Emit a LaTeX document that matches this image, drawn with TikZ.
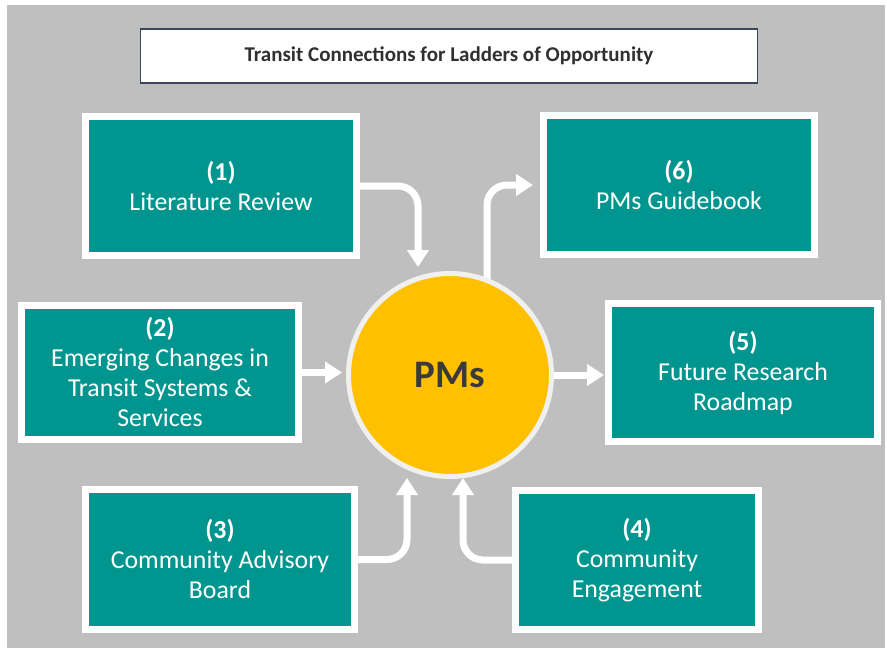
\documentclass[tikz,border=0pt]{standalone}
\usepackage{fontspec}
\setmainfont{Carlito}
\usetikzlibrary{arrows.meta}

\definecolor{panelgray}{RGB}{191,191,191}
\definecolor{tealbox}{RGB}{0,150,143}
\definecolor{hubyellow}{RGB}{255,192,0}
\definecolor{hubtext}{RGB}{58,58,58}
\definecolor{titleframe}{RGB}{59,70,86}
\definecolor{titletext}{RGB}{48,48,48}

\tikzset{
  taskbox/.style={rectangle, fill=tealbox, draw=white, line width=7pt,
    text=white, align=center, inner sep=0pt,
    font=\fontsize{25.8}{30}\selectfont},
  hub/.style={circle, fill=hubyellow, draw=white!94!black, line width=5pt,
    minimum size=203pt, inner sep=0pt, text=hubtext,
    font=\fontsize{39}{44}\selectfont\bfseries},
  titlebox/.style={rectangle, fill=white, draw=titleframe, line width=1.5pt,
    text=titletext, font=\fontsize{21}{24}\selectfont\bfseries},
  flow/.style={draw=white, line width=7pt, rounded corners=20pt,
    -{Triangle[width=21pt,length=17pt]}},
}

\begin{document}
\begin{tikzpicture}[x=1pt,y=-1pt]
  \useasboundingbox (0,0) rectangle (887,651);
  % slide panel
  \fill[panelgray] (7,5) rectangle (885,648);

  % heading
  \node[titlebox, minimum width=617pt, minimum height=54pt] (title) at (449,56)
    {Transit Connections for Ladders of Opportunity};

  % task boxes
  \node[taskbox, minimum width=271pt, minimum height=139pt] (b1) at (221,186)
    {\textbf{(1)}\\Literature Review};
  \node[taskbox, minimum width=271pt, minimum height=139pt] (b6) at (679,185)
    {\textbf{(6)}\\PMs Guidebook};
  \node[taskbox, minimum width=277pt, minimum height=134pt] (b2) at (160,372.5)
    {\textbf{(2)}\\Emerging Changes in\\Transit Systems \&\\Services};
  \node[taskbox, minimum width=269pt, minimum height=138pt] (b5) at (743,372.5)
    {\textbf{(5)}\\Future Research\\Roadmap};
  \node[taskbox, minimum width=269pt, minimum height=140pt] (b3) at (220,559.5)
    {\textbf{(3)}\\Community Advisory\\Board};
  \node[taskbox, minimum width=243pt, minimum height=139pt] (b4) at (637,560)
    {\textbf{(4)}\\Community\\Engagement};

  % hub position (drawn after the arrows)
  \coordinate (hubc) at (450,375);
  \path (hubc) node[hub, draw=none, fill=none, text opacity=0] (pm) {PMs};

  % flows
  \draw[flow] (b1.east) -| ([xshift=-32pt,yshift=4pt]pm.north);
  \draw[flow] ([xshift=37pt,yshift=-20pt]pm.north) |- ([xshift=-7pt]b6.west);
  \draw[flow] (b2.east) -- ([xshift=-4pt]b2.east -| pm.west);
  \draw[flow] ([xshift=-4pt]pm.east) -- ([xshift=-1pt]pm.east -| b5.west);
  \draw[flow] (b3.east) -| ([xshift=-43pt,yshift=1pt]pm.south);
  \draw[flow] (b4.west) -| ([xshift=13pt,yshift=1pt]pm.south);

  % hub
  \node[hub] (pmhub) at (hubc) {PMs};
\end{tikzpicture}
\end{document}
